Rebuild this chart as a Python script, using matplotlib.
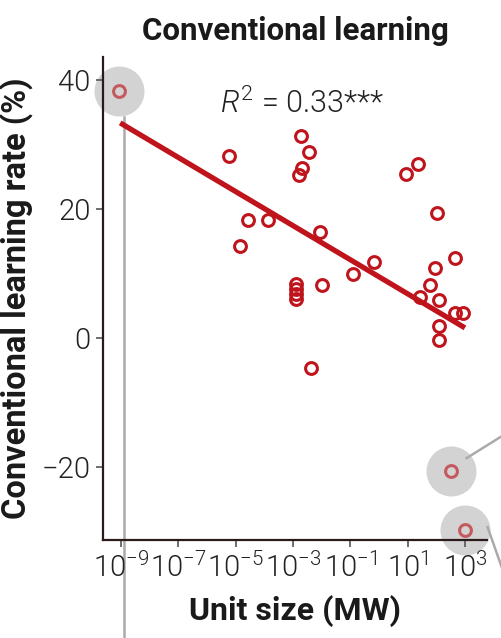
import numpy as np
import matplotlib
matplotlib.use("Agg")
import matplotlib.pyplot as plt

# unit size (log10 MW) and conventional learning rate (%)
log_size = [-5.24, -4.85, -4.57, -3.88, -2.73, -2.45, -2.69, -2.80, -2.07,
            -2.90, -2.90, -2.90, -2.90, -2.00, -2.38, -0.92, -0.18, 0.93,
            1.38, 2.01, 2.64, 1.94, 1.77, 1.45, 2.11, 2.67, 2.92, 2.11, 2.08]
rate = [28.2, 14.3, 18.3, 18.3, 31.3, 28.8, 26.4, 25.3, 16.4,
        8.4, 7.6, 6.8, 6.0, 8.2, -4.7, 9.9, 11.8, 25.4,
        27.0, 19.4, 12.4, 10.9, 8.2, 6.4, 5.9, 3.9, 3.9, 1.9, -0.3]

# outliers highlighted in grey
hi_log_size = [-9.07, 2.50, 3.02]
hi_rate = [38.3, -20.6, -29.8]

# regression fit: rate = a + b*log10(size)
fit_a = 9.52
fit_b = -2.642
fit_range = [-9.03, 3.0]
r2_text = r"$\mathit{R}^2$ = 0.33***"

xticks = [-9, -7, -5, -3, -1, 1, 3]
yticks = [-20, 0, 20, 40]

RED = "#c0141c"
FONT = ["Roboto", "DejaVu Sans"]

plt.rcParams["font.family"] = FONT
plt.rcParams["mathtext.fontset"] = "custom"
plt.rcParams["mathtext.rm"] = "Roboto:weight=300"
plt.rcParams["mathtext.it"] = "Roboto:italic:weight=300"

fig = plt.figure(figsize=(5.01, 6.38), dpi=100)
ax = fig.add_axes([0.2056, 0.1536, 0.7664, 0.7571])

x = 10.0 ** np.array(log_size)
hx = 10.0 ** np.array(hi_log_size)

# grey halos + connector lines
ax.plot(hx, hi_rate, "o", ms=36, color="#d3d3d3", mec="none", zorder=1,
        clip_on=False)
gray = "#aaaaaa"
ax.plot([10 ** -8.88, 10 ** -8.88], [34.3, -50], color=gray, lw=1.8,
        zorder=1, clip_on=False)
ax.plot([10 ** 3.06, 10 ** 4.9], [-18.6, -13.5], color=gray, lw=1.8,
        zorder=1, clip_on=False)
ax.plot([10 ** 3.79, 10 ** 4.38], [-29.3, -36.7], color=gray, lw=1.8,
        zorder=1, clip_on=False)

# fit line
fx = np.array(fit_range)
ax.plot(10.0 ** fx, fit_a + fit_b * fx, color=RED, lw=3.8,
        solid_capstyle="butt", zorder=2)

ax.plot(x, rate, "o", ms=8.5, mfc="none", mec=RED, mew=2.2, zorder=3)
ax.plot(hx, hi_rate, "o", ms=8.5, mfc="none", mec="#c45a5e", mew=2.2,
        zorder=3, clip_on=False)

ax.set_xscale("log")
ax.set_xlim(10 ** -9.63, 10 ** 3.77)
ax.set_ylim(-31.3, 43.6)
ax.minorticks_off()
ax.set_xticks([10.0 ** v for v in xticks])
ax.set_xticklabels([r"$10^{%s}$" % str(v).replace("-", "\u2212") for v in xticks])
ax.set_yticks(yticks)
ax.set_yticklabels([str(v).replace("-", "\u2212") for v in yticks])

for s in ["top", "right"]:
    ax.spines[s].set_visible(False)
for s in ["left", "bottom"]:
    ax.spines[s].set_color("#2b1a1a")
    ax.spines[s].set_linewidth(1.6)
ax.tick_params(length=5, width=1.2, color="#555555", labelsize=21,
               labelcolor="#222222", pad=4)
for lab in ax.get_yticklabels():
    lab.set_fontweight(300)

ax.text(10 ** -5.55, 36.4, r2_text, fontsize=22, fontweight=300,
        color="#222222", va="center")

ax.set_title("Conventional learning", fontsize=22.5, fontweight="bold",
             color="#1a1a1a", pad=12)
ax.set_xlabel("Unit size (MW)", fontsize=23, fontweight="bold",
              color="#1a1a1a", labelpad=9)
ax.set_ylabel("Conventional learning rate (%)", fontsize=23.5,
              fontweight="bold", color="#1a1a1a", labelpad=6)

fig.savefig("out.png", dpi=100)
